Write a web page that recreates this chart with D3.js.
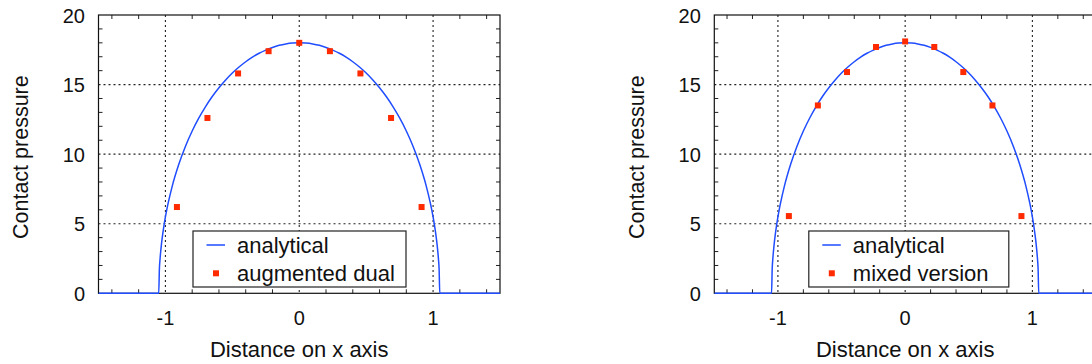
<!DOCTYPE html>
<html>
<head>
<meta charset="utf-8">
<script src="https://cdn.jsdelivr.net/npm/d3@7"></script>
<style>
  body { margin: 0; background: #fff; }
  text { font-family: "Liberation Sans", Arial, Helvetica, sans-serif; fill: #111; }
</style>
</head>
<body>
<script>
// analytical curve (same on both panels)
const curveX = [-1.5, -1.05, -1.045, -1.04, -1.035, -1.03, -1.02, -1.01, -1.0, -0.99, -0.98, -0.95, -0.9, -0.85, -0.8, -0.75, -0.7, -0.65, -0.6, -0.55, -0.5, -0.45, -0.4, -0.35, -0.3, -0.25, -0.2, -0.15, -0.1, -0.05,
  0, 0.05, 0.1, 0.15, 0.2, 0.25, 0.3, 0.35, 0.4, 0.45, 0.5, 0.55, 0.6, 0.65, 0.7, 0.75, 0.8, 0.85, 0.9, 0.95, 0.98, 0.99, 1.0, 1.01, 1.02, 1.03, 1.035, 1.04, 1.045, 1.05, 1.5]
const curveP = [0, 0, 1.75, 2.48, 3.03, 3.5, 4.27, 4.92, 5.49, 6.0, 6.46, 7.67, 9.27, 10.57, 11.66, 12.6, 13.42, 14.14, 14.77, 15.33, 15.83, 16.26, 16.64, 16.97, 17.25, 17.48, 17.67, 17.82, 17.92, 17.98,
  18, 17.98, 17.92, 17.82, 17.67, 17.48, 17.25, 16.97, 16.64, 16.26, 15.83, 15.33, 14.77, 14.14, 13.42, 12.6, 11.66, 10.57, 9.27, 7.67, 6.46, 6.0, 5.49, 4.92, 4.27, 3.5, 3.03, 2.48, 1.75, 0, 0]

// numerical nodes
const nodeX = [-0.914, -0.686, -0.457, -0.229, 0, 0.229, 0.457, 0.686, 0.914]
const dualP = [6.2, 12.6, 15.8, 17.4, 18.0, 17.4, 15.8, 12.6, 6.2]
const mixedP = [5.55, 13.5, 15.9, 17.7, 18.1, 17.7, 15.9, 13.5, 5.55]

const xTicks = [-1, 0, 1]
const yTicks = [0, 5, 10, 15, 20]
const xMinor = [-1.4, -1.2, -0.8, -0.6, -0.4, -0.2, 0.2, 0.4, 0.6, 0.8, 1.2, 1.4]
const yMinor = [1, 2, 3, 4, 6, 7, 8, 9, 11, 12, 13, 14, 16, 17, 18, 19]

const blue = '#1f4dff'
const red = '#ff2a00'

var svg = d3.select('body').append('svg')
  .attr('width', 1092)
  .attr('height', 364)

function drawPanel(id, left, right, points, label, legendW) {
  var top = 15, bottom = 293.3
  var x = d3.scaleLinear().domain([-1.5, 1.5]).range([left, right])
  var y = d3.scaleLinear().domain([0, 20]).range([bottom, top])

  var g = svg.append('g')

  g.append('clipPath').attr('id', 'clip' + id)
    .append('rect')
    .attr('x', left).attr('y', top - 2)
    .attr('width', right - left).attr('height', bottom - top + 4)

  // dotted grid
  g.selectAll('.gx').data(xTicks).enter().append('line')
    .attr('x1', d => x(d)).attr('x2', d => x(d))
    .attr('y1', top).attr('y2', bottom)
    .attr('stroke', '#222').attr('stroke-width', 1.1).attr('stroke-dasharray', '2,3')
  g.selectAll('.gy').data(yTicks.slice(1, -1)).enter().append('line')
    .attr('x1', left).attr('x2', right)
    .attr('y1', d => y(d)).attr('y2', d => y(d))
    .attr('stroke', '#222').attr('stroke-width', 1.1).attr('stroke-dasharray', '2,3')

  // inward minor ticks, all four sides
  var tk = '#222'
  g.selectAll('.tb').data(xMinor).enter().append('line')
    .attr('x1', d => x(d)).attr('x2', d => x(d))
    .attr('y1', bottom).attr('y2', bottom - 4).attr('stroke', tk)
  g.selectAll('.tt').data(xMinor).enter().append('line')
    .attr('x1', d => x(d)).attr('x2', d => x(d))
    .attr('y1', top).attr('y2', top + 4).attr('stroke', tk)
  g.selectAll('.tl').data(yMinor).enter().append('line')
    .attr('x1', left).attr('x2', left + 4)
    .attr('y1', d => y(d)).attr('y2', d => y(d)).attr('stroke', tk)
  g.selectAll('.tr').data(yMinor).enter().append('line')
    .attr('x1', right).attr('x2', right - 4)
    .attr('y1', d => y(d)).attr('y2', d => y(d)).attr('stroke', tk)

  // frame
  g.append('rect')
    .attr('x', left).attr('y', top)
    .attr('width', right - left).attr('height', bottom - top)
    .attr('fill', 'none').attr('stroke', '#111').attr('stroke-width', 1.2)

  // analytical curve
  var line = d3.line()
    .x((d, i) => x(curveX[i]))
    .y(d => y(d))
    .curve(d3.curveMonotoneX)
  g.append('path')
    .datum(curveP)
    .attr('clip-path', 'url(#clip' + id + ')')
    .attr('d', line)
    .attr('fill', 'none')
    .attr('stroke', blue)
    .attr('stroke-width', 1.5)

  // nodes
  g.selectAll('.pt').data(points).enter().append('rect')
    .attr('x', (d, i) => x(nodeX[i]) - 3)
    .attr('y', d => y(d) - 3)
    .attr('width', 6).attr('height', 6)
    .attr('fill', red)

  // tick labels
  g.selectAll('.ly').data(yTicks).enter().append('text')
    .attr('x', left - 13.5)
    .attr('y', d => y(d) + 7.5)
    .attr('text-anchor', 'end')
    .attr('font-size', 20)
    .text(d => d)
  g.selectAll('.lx').data(xTicks).enter().append('text')
    .attr('x', d => x(d))
    .attr('y', 324.5)
    .attr('text-anchor', 'middle')
    .attr('font-size', 20)
    .text(d => d < 0 ? '-' + Math.abs(d) : d)

  // axis titles
  g.append('text')
    .attr('x', (left + right) / 2)
    .attr('y', 357)
    .attr('text-anchor', 'middle')
    .attr('font-size', 22)
    .text('Distance on x axis')
  g.append('text')
    .attr('transform', `translate(${left - 70.5},${(top + bottom) / 2 + 3}) rotate(-90)`)
    .attr('text-anchor', 'middle')
    .attr('font-size', 21.5)
    .text('Contact pressure')

  // legend
  var lx = left + 94.5, ly = 231
  var lg = g.append('g').attr('transform', `translate(${lx},${ly})`)
  lg.append('rect')
    .attr('width', legendW).attr('height', 56)
    .attr('fill', '#fff').attr('stroke', '#222').attr('stroke-width', 1.2)
  lg.append('line')
    .attr('x1', 13.5).attr('x2', 32)
    .attr('y1', 14).attr('y2', 14)
    .attr('stroke', blue).attr('stroke-width', 1.5)
  lg.append('text').attr('x', 44).attr('y', 22).attr('font-size', 22).text('analytical')
  lg.append('rect')
    .attr('x', 20).attr('y', 39.3)
    .attr('width', 6).attr('height', 6)
    .attr('fill', red)
  lg.append('text').attr('x', 44).attr('y', 50).attr('font-size', 22).text(label)
}

drawPanel('a', 98.5, 500, dualP, 'augmented dual', 213)
drawPanel('b', 714.3, 1096, mixedP, 'mixed version', 200)
</script>
</body>
</html>
